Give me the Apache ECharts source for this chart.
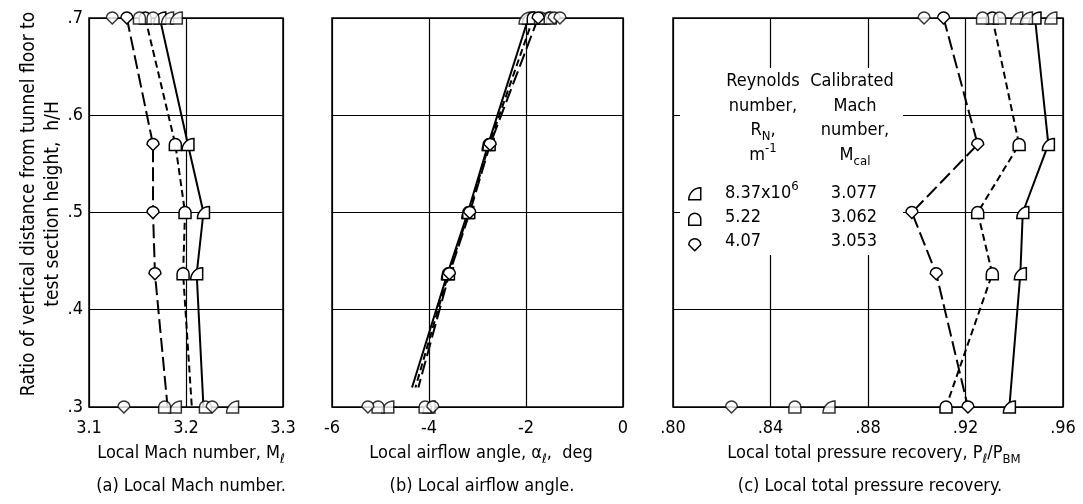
<!DOCTYPE html>
<html>
<head>
<meta charset="utf-8">
<script src="https://cdn.jsdelivr.net/npm/echarts@6/dist/echarts.min.js"></script>
<style>
  html, body { margin: 0; padding: 0; background: #fff; }
  #chart { width: 1083px; height: 504px; }
</style>
</head>
<body>
<div id="chart"></div>
<script>
// h/H stations where the rake was read
const hStations = [0.7, 0.57, 0.5, 0.437, 0.3];
const hStationsAngle = [0.7, 0.57, 0.5, 0.437, 0.32];

// (a) local Mach number, one line per Reynolds number
const machRe837 = [3.173, 3.202, 3.218, 3.211, 3.218];
const machRe522 = [3.158, 3.189, 3.199, 3.197, 3.206];
const machRe407 = [3.139, 3.166, 3.166, 3.168, 3.181];
// extra readings on the top row (.7) and the floor row (.3)
const machTopRe837 = [3.181, 3.190];
const machTopRe522 = [3.152, 3.166];
const machTopRe407 = [3.124];
const machFloorRe837 = [3.189, 3.248];
const machFloorRe522 = [3.178, 3.220];
const machFloorRe407 = [3.136, 3.227];

// (b) local airflow angle, deg
const angleRe837 = [-1.95, -2.78, -3.20, -3.62, -4.35];
const angleRe522 = [-1.85, -2.76, -3.18, -3.60, -4.28];
const angleRe407 = [-1.75, -2.74, -3.16, -3.58, -4.22];
const angleTopRe837 = [-2.02, -1.62];
const angleTopRe522 = [-1.70, -1.50];
const angleTopRe407 = [-1.42, -1.30];
const angleFloorRe837 = [-4.85, -4.00];
const angleFloorRe522 = [-5.05, -4.08];
const angleFloorRe407 = [-5.26, -3.92];

// (c) local total pressure recovery
const recRe837 = [0.9485, 0.954, 0.9435, 0.9425, 0.938];
const recRe522 = [0.931, 0.942, 0.925, 0.931, 0.912];
const recRe407 = [0.911, 0.925, 0.898, 0.908, 0.921];
const recTopRe837 = [0.941, 0.945, 0.955];
const recTopRe522 = [0.927, 0.934];
const recTopRe407 = [0.903];
const recFloorRe837 = [0.864];
const recFloorRe522 = [0.850];
const recFloorRe407 = [0.824];

// legend table
const legendRe = ['8.37x10', '5.22', '4.07'];
const legendMcal = ['3.077', '3.062', '3.053'];

const FONT = '"DejaVu Sans Condensed", "Liberation Sans Narrow", "DejaVu Sans", sans-serif';
const SYM = {
  r837: 'path://M10,0 L10,10 L0,10 A10,10 0 0 1 10,0 Z',
  r522: 'path://M0,10 L0,5 A5,5 0 0 1 10,5 L10,10 Z',
  r407: 'path://M5,10 L0,5 A5,5 0 0 1 10,5 Z'
};
const DASH = { r837: 'solid', r522: [7, 4], r407: [14, 5] };
const KEYS = ['r837', 'r522', 'r407'];

function lineSeries(idx, key, xs, hs, hideLast) {
  return {
    name: key,
    type: 'line', xAxisIndex: idx, yAxisIndex: idx, clip: false,
    symbol: SYM[key], symbolSize: 12,
    itemStyle: { color: '#fff', borderColor: '#000', borderWidth: 1.5 },
    lineStyle: { color: '#000', width: 2, type: DASH[key] },
    data: xs.map((x, i) => {
      const item = { value: [x, hs[i]] };
      if (hideLast && i === xs.length - 1) item.symbol = 'none';
      return item;
    }),
    z: 3
  };
}

function extraSeries(idx, key, xs, h) {
  return {
    type: 'scatter', xAxisIndex: idx, yAxisIndex: idx, clip: false,
    symbol: SYM[key], symbolSize: 12,
    itemStyle: { color: '#fff', borderColor: '#000', borderWidth: 1.5 },
    data: xs.map(x => [x, h]),
    z: 3
  };
}

const panels = [
  { lines: [machRe837, machRe522, machRe407], hs: hStations, hideLast: true,
    top: [machTopRe837, machTopRe522, machTopRe407], floor: [machFloorRe837, machFloorRe522, machFloorRe407] },
  { lines: [angleRe837, angleRe522, angleRe407], hs: hStationsAngle, hideLast: true,
    top: [angleTopRe837, angleTopRe522, angleTopRe407], floor: [angleFloorRe837, angleFloorRe522, angleFloorRe407] },
  { lines: [recRe837, recRe522, recRe407], hs: hStations, hideLast: false,
    top: [recTopRe837, recTopRe522, recTopRe407], floor: [recFloorRe837, recFloorRe522, recFloorRe407] }
];

const series = [];
panels.forEach((p, idx) => {
  KEYS.forEach((k, j) => {
    series.push(lineSeries(idx, k, p.lines[j], p.hs, p.hideLast));
    series.push(extraSeries(idx, k, p.top[j], 0.7));
    series.push(extraSeries(idx, k, p.floor[j], 0.3));
  });
});

const grids = [
  { left: 89, top: 18, width: 194, height: 389 },
  { left: 332, top: 18, width: 291, height: 389 },
  { left: 673, top: 18, width: 390, height: 389 }
].map(g => Object.assign(g, { show: true, borderColor: '#000', borderWidth: 1.5, backgroundColor: 'transparent' }));

function xAxis(idx, min, max, interval, fmt) {
  return {
    type: 'value', gridIndex: idx, min, max, interval,
    axisLine: { show: false }, axisTick: { show: false },
    splitLine: { lineStyle: { color: '#000', width: 1.2 } },
    axisLabel: { color: '#000', fontFamily: FONT, fontSize: 18, margin: 12, formatter: fmt }
  };
}

function yAxis(idx) {
  return {
    type: 'value', gridIndex: idx, min: 0.3, max: 0.7, interval: 0.1,
    axisLine: { show: false }, axisTick: { show: false },
    splitLine: { lineStyle: { color: '#000', width: 1.2 } },
    axisLabel: {
      show: idx === 0, color: '#000', fontFamily: FONT, fontSize: 18, margin: 6,
      formatter: v => v.toFixed(1).replace(/^0/, '')
    }
  };
}

const rich = {
  a: { fontFamily: FONT, fontSize: 18, lineHeight: 26, fill: '#000' },
  s: { fontFamily: FONT, fontSize: 13, lineHeight: 13, verticalAlign: 'bottom', fill: '#000' },
  p: { fontFamily: FONT, fontSize: 13, lineHeight: 13, verticalAlign: 'top', fill: '#000' }
};

function label(x, y, text, align, size, rotation) {
  return {
    type: 'text', x, y, z: 10, rotation: rotation || 0,
    style: { text, rich, fontFamily: FONT, fontSize: size || 18, fill: '#000', align: align || 'center', verticalAlign: 'middle' }
  };
}

const graphic = [
  // clear the grid behind the legend table
  { type: 'rect', z: 1, shape: { x: 680, y: 68, width: 223, height: 187 }, style: { fill: '#fff' } },

  label(29, 204, 'Ratio of vertical distance from tunnel floor to', 'center', 19, Math.PI / 2),
  label(53, 204, 'test section height,  h/H', 'center', 19, Math.PI / 2),

  label(191, 453, '{a|Local Mach number, M}{s|ℓ}'),
  label(481, 453, '{a|Local airflow angle, α}{s|ℓ}{a|,  deg}'),
  label(874, 453, '{a|Local total pressure recovery, P}{s|ℓ}{a|/P}{s|BM}'),

  label(191, 486, '{a|(a) Local Mach number.}'),
  label(482, 486, '{a|(b) Local airflow angle.}'),
  label(870, 486, '{a|(c) Local total pressure recovery.}'),

  label(763, 81, '{a|Reynolds}'),
  label(763, 106, '{a|number,}'),
  label(763, 130, '{a|R}{s|N}{a|,}'),
  label(763, 155, '{a|m}{p|-1}'),
  label(852, 81, '{a|Calibrated}'),
  label(855, 106, '{a|Mach}'),
  label(855, 130, '{a|number,}'),
  label(855, 155, '{a|M}{s|cal}')
];

const rowY = [193, 217, 241];
KEYS.forEach((k, i) => {
  const reText = i === 0 ? '{a|' + legendRe[i] + '}{p|6}' : '{a|' + legendRe[i] + '}';
  graphic.push(label(725, rowY[i], reText, 'left'));
  graphic.push(label(854, rowY[i], '{a|' + legendMcal[i] + '}'));
});

const chart = echarts.init(document.getElementById('chart'), null, { renderer: 'canvas' });
chart.setOption({
  animation: false,
  backgroundColor: '#fff',
  grid: grids,
  xAxis: [
    xAxis(0, 3.1, 3.3, 0.1, v => v.toFixed(1)),
    xAxis(1, -6, 0, 2, v => String(v)),
    xAxis(2, 0.8, 0.96, 0.04, v => v.toFixed(2).replace(/^0/, ''))
  ],
  yAxis: [yAxis(0), yAxis(1), yAxis(2)],
  legend: {
    orient: 'vertical', left: 688, top: rowY[0] - 6, padding: 0,
    itemWidth: 12, itemHeight: 12, itemGap: 12,
    selectedMode: false,
    formatter: () => '',
    textStyle: { fontSize: 8, lineHeight: 12 },
    itemStyle: { color: '#fff', borderColor: '#000', borderWidth: 1.5 },
    data: KEYS.map(k => ({ name: k, icon: SYM[k] }))
  },
  graphic,
  series
});
</script>
</body>
</html>
